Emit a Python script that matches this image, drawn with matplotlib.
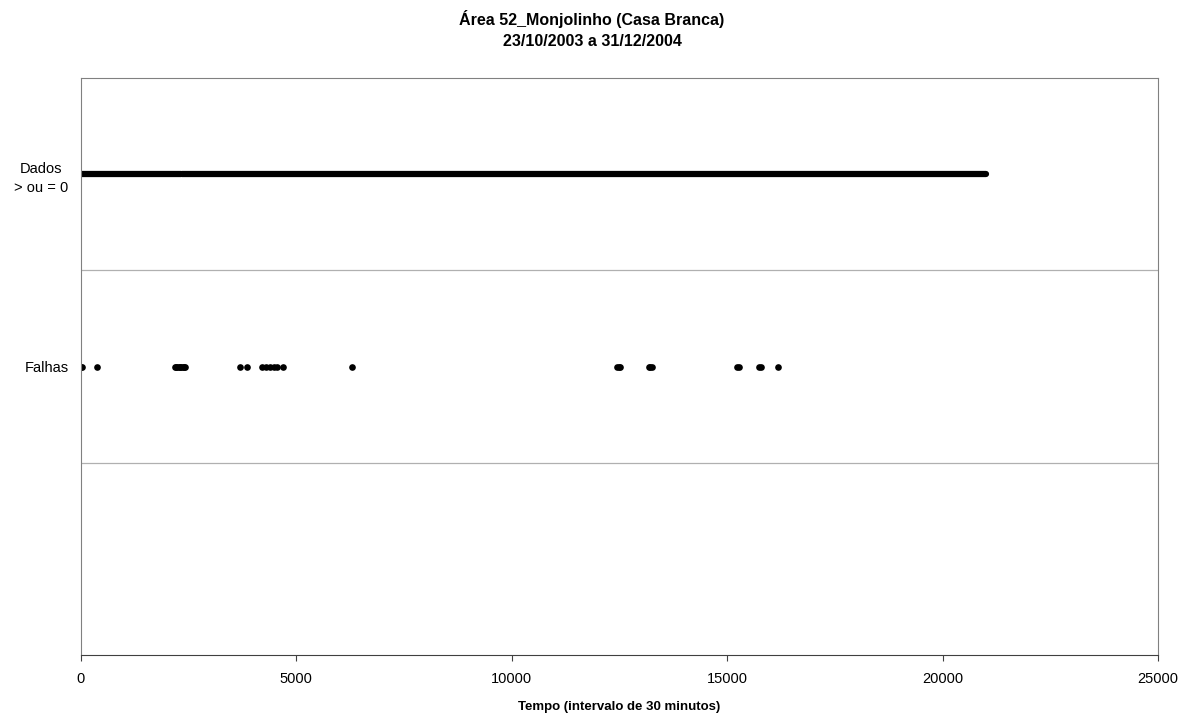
import matplotlib
matplotlib.use("Agg")
import matplotlib.pyplot as plt

plt.rcParams['font.family'] = ['Liberation Sans', 'DejaVu Sans']

titulo = "Área 52_Monjolinho (Casa Branca)\n23/10/2003 a 31/12/2004"
rotulo_x = "Tempo (intervalo de 30 minutos)"
rotulos_y = ["Falhas", "Dados\n> ou = 0"]
nivel_falhas = 1.5
nivel_dados = 2.5

# trechos com dados (inicio, fim) em intervalos de 30 min
trechos_dados = [(0, 2330), (2350, 21010)]

# intervalos com falhas
falhas = [0, 30, 371, 2180, 2210, 2240, 2270, 2300, 2330, 2360, 2390, 2410,
          3690, 3850, 4200, 4300, 4390, 4470, 4550, 4690, 6290,
          12440, 12480, 12510, 13180, 13220, 13250,
          15230, 15270, 15740, 15780, 16180]

fig = plt.figure(figsize=(11.84, 7.16), dpi=100)
ax = fig.add_axes([0.0684, 0.0852, 0.9096, 0.8058])

for ini, fim in trechos_dados:
    ax.plot([ini, fim], [nivel_dados, nivel_dados], color='black', lw=4.5,
            solid_capstyle='round')
ax.plot(falhas, [nivel_falhas] * len(falhas), 'o', color='black', ms=4.8, mew=0)

ax.set_xlim(0, 25000)
ax.set_ylim(0, 3)
ax.set_xticks([0, 5000, 10000, 15000, 20000, 25000])
ax.set_yticks([nivel_falhas, nivel_dados])
ax.set_yticklabels(rotulos_y, multialignment='center', fontsize=10.5,
                   linespacing=1.45)
ax.tick_params(axis='y', length=0, pad=9)
ax.tick_params(axis='x', direction='out', length=4, labelsize=10.5, pad=8,
               color='#404040')
for y in [1, 2]:
    ax.axhline(y, color='#b0b0b0', lw=0.9)
for lado in ['left', 'right', 'top']:
    ax.spines[lado].set_color('#808080')
ax.spines['bottom'].set_color('#404040')

ax.set_xlabel(rotulo_x, fontsize=9.5, fontweight='bold', labelpad=11)
fig.text(0.5, 1 - 29 / 716, titulo, ha='center', va='center', fontsize=11.5,
         fontweight='bold', linespacing=1.5)

fig.savefig("out.png", dpi=100)
